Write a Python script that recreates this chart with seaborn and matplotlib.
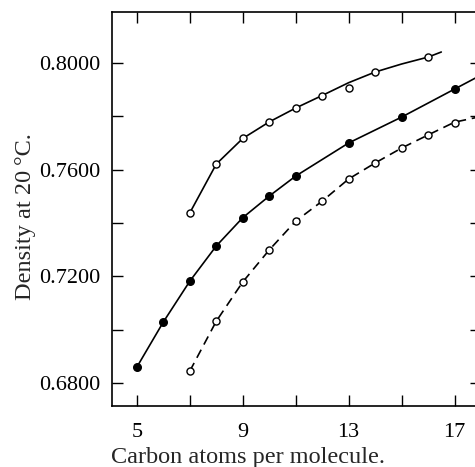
import matplotlib
matplotlib.use('Agg')
import matplotlib.pyplot as plt
import pandas as pd
import seaborn as sns

sns.set_style('ticks')
plt.rcParams['font.family'] = ['Liberation Serif', 'DejaVu Serif']

# open circles, solid curve (upper series)
upper_x = [7, 8, 9, 10, 11, 12, 13, 14, 16]
upper_d = [0.7438, 0.7621, 0.7717, 0.7779, 0.7831, 0.7876, 0.7906, 0.7966, 0.8022]
upper_curve_x = [7, 8, 9, 10, 11, 12, 13, 14, 15, 16, 16.5]
upper_curve_d = [0.7438, 0.7621, 0.7717, 0.7779, 0.7831, 0.7878, 0.7926, 0.7966, 0.7996, 0.8022, 0.8041]

# filled circles, solid curve (middle series)
middle_x = [5, 6, 7, 8, 9, 10, 11, 13, 15, 17]
middle_d = [0.6860, 0.7029, 0.7182, 0.7314, 0.7420, 0.7501, 0.7576, 0.7700, 0.7797, 0.7902]
middle_curve_x = middle_x + [17.8]
middle_curve_d = middle_d + [0.7944]

# open circles, dashed curve (lower series)
lower_x = [7, 8, 9, 10, 11, 12, 13, 14, 15, 16, 17]
lower_d = [0.6845, 0.7032, 0.7179, 0.7299, 0.7407, 0.7482, 0.7565, 0.7625, 0.7681, 0.7730, 0.7775]
lower_curve_x = lower_x + [17.8]
lower_curve_d = [0.6845, 0.7032, 0.7179, 0.7299, 0.7407, 0.7482, 0.7565, 0.7625, 0.7681, 0.7730, 0.7778, 0.7795]

x_ticks = [5, 7, 9, 11, 13, 15, 17]
x_labels = ['5', '', '9', '', '13', '', '17']
y_ticks = [0.68, 0.70, 0.72, 0.74, 0.76, 0.78, 0.80]
y_labels = ['0.6800', '', '0.7200', '', '0.7600', '', '0.8000']

fig = plt.figure(figsize=(4.75, 4.67), dpi=100)
ax = fig.add_axes([112 / 475, 1 - 406 / 467, 369 / 475, 394 / 467])

curves = [
    (upper_curve_x, upper_curve_d, '-'),
    (middle_curve_x, middle_curve_d, '-'),
    (lower_curve_x, lower_curve_d, (0, (5.5, 3.5))),
]
for cx, cd, ls in curves:
    df = pd.DataFrame({'carbon': cx, 'density': cd})
    sns.lineplot(data=df, x='carbon', y='density', color='black', lw=1.2,
                 linestyle=ls, sort=False, ax=ax)

for px, pd_, face, size in [(upper_x, upper_d, 'white', 26),
                            (lower_x, lower_d, 'white', 26),
                            (middle_x, middle_d, 'black', 30)]:
    df = pd.DataFrame({'carbon': px, 'density': pd_})
    sns.scatterplot(data=df, x='carbon', y='density', color=face, edgecolor='black',
                    linewidth=1.0, s=size, zorder=3, ax=ax)

ax.set_xlim(4.06, 18)
ax.set_ylim(0.6714, 0.8191)
ax.set_xticks(x_ticks)
ax.set_xticklabels(x_labels)
ax.set_yticks(y_ticks)
ax.set_yticklabels(y_labels)
ax.tick_params(direction='in', length=8, width=1.0, top=True, right=True,
               labelsize=16, colors='black')
ax.tick_params(axis='x', pad=12)
ax.tick_params(axis='y', pad=8.5)
for sp in ax.spines.values():
    sp.set_linewidth(1.2)
    sp.set_color('black')

ax.set_xlabel('Carbon atoms per molecule.', fontsize=17.5)
ax.set_ylabel('Density at 20\u2009°C.', fontsize=17.5)
ax.xaxis.set_label_coords(0.3686, -0.104)
ax.yaxis.set_label_coords(-0.206, 0.48)

fig.savefig('out.png', dpi=100)
